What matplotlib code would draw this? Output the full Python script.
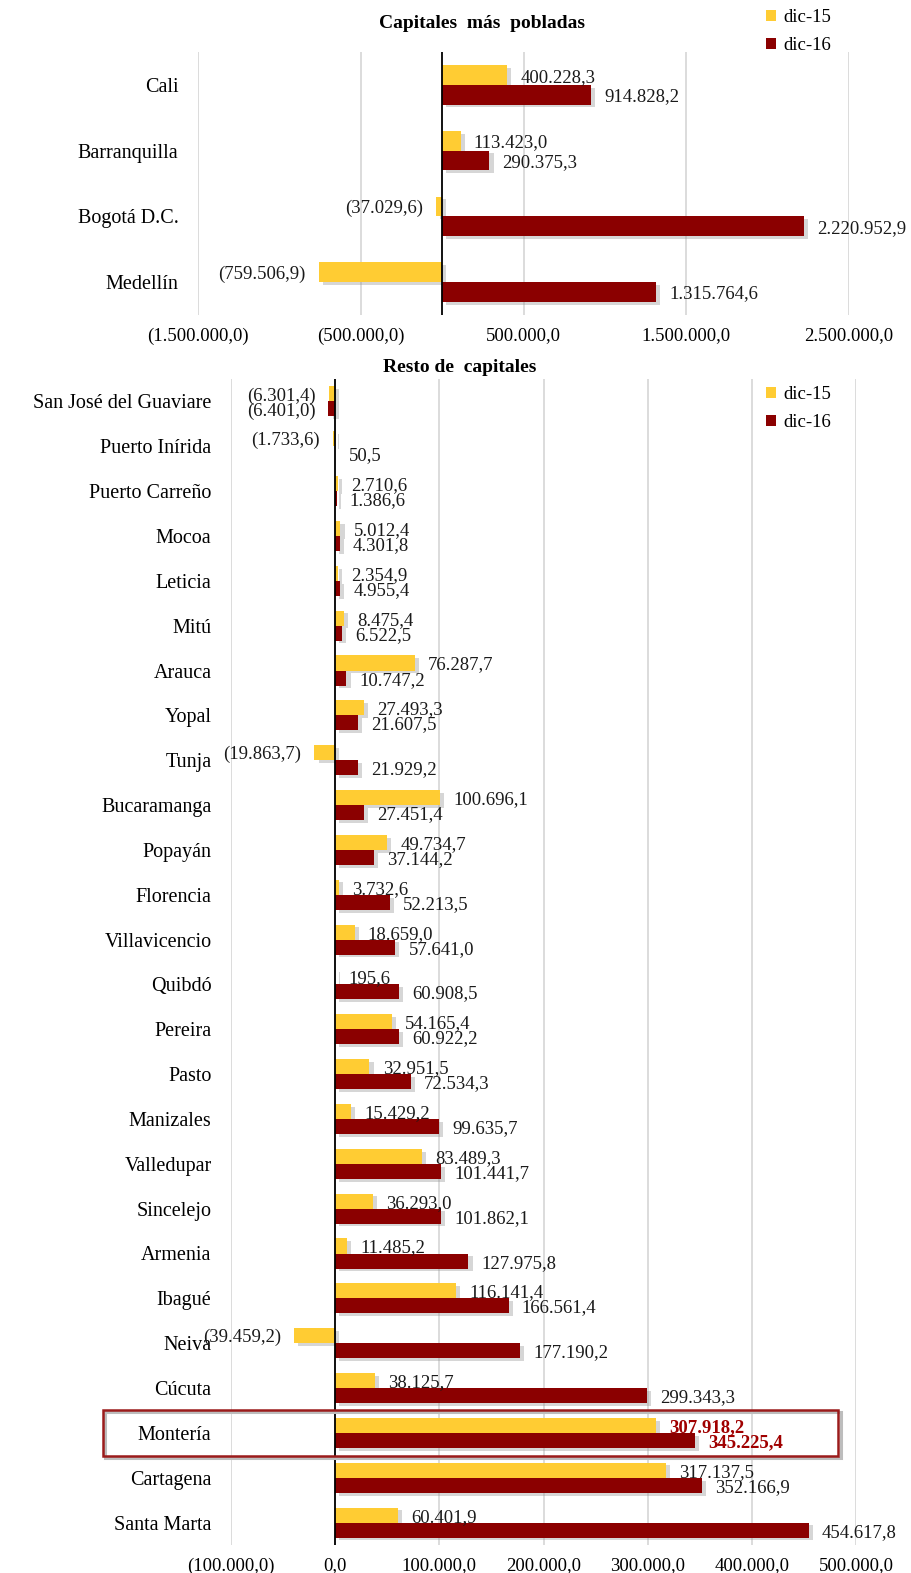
import numpy as np
import matplotlib
matplotlib.use("Agg")
import matplotlib.pyplot as plt
import matplotlib.patheffects as pe
from matplotlib.patches import Rectangle, Patch
from matplotlib.transforms import blended_transform_factory

plt.rcParams['font.family'] = ['Liberation Serif', 'DejaVu Serif']

# datos: capitales más pobladas
top_cities = ['Cali', 'Barranquilla', 'Bogotá D.C.', 'Medellín']
top_dic15 = [400228.3, 113423.0, -37029.6, -759506.9]
top_dic16 = [914828.2, 290375.3, 2220952.9, 1315764.6]
top_ticks = [-1500000, -500000, 500000, 1500000, 2500000]

# datos: resto de capitales
rest_cities = ['San José del Guaviare', 'Puerto Inírida', 'Puerto Carreño', 'Mocoa',
               'Leticia', 'Mitú', 'Arauca', 'Yopal', 'Tunja', 'Bucaramanga',
               'Popayán', 'Florencia', 'Villavicencio', 'Quibdó', 'Pereira', 'Pasto',
               'Manizales', 'Valledupar', 'Sincelejo', 'Armenia', 'Ibagué', 'Neiva',
               'Cúcuta', 'Montería', 'Cartagena', 'Santa Marta']
rest_dic15 = [-6301.4, -1733.6, 2710.6, 5012.4, 2354.9, 8475.4, 76287.7, 27493.3,
              -19863.7, 100696.1, 49734.7, 3732.6, 18659.0, 195.6, 54165.4, 32951.5,
              15429.2, 83489.3, 36293.0, 11485.2, 116141.4, -39459.2, 38125.7,
              307918.2, 317137.5, 60401.9]
rest_dic16 = [-6401.0, 50.5, 1386.6, 4301.8, 4955.4, 6522.5, 10747.2, 21607.5,
              21929.2, 27451.4, 37144.2, 52213.5, 57641.0, 60908.5, 60922.2, 72534.3,
              99635.7, 101441.7, 101862.1, 127975.8, 166561.4, 177190.2, 299343.3,
              345225.4, 352166.9, 454617.8]
rest_ticks = [-100000, 0, 100000, 200000, 300000, 400000, 500000]
highlight = 'Montería'

YELLOW = '#FFCC33'
RED = '#8B0000'
GRID = '#D9D9D9'


def fmt(v):
    s = f"{abs(v):,.1f}".replace(',', 'X').replace('.', ',').replace('X', '.')
    return f"({s})" if v < 0 else s


shadow = [pe.SimplePatchShadow(offset=(3, -2), shadow_rgbFace='#8c8c8c', alpha=0.35),
          pe.Normal()]


def draw(ax, cats, s15, s16, ticks, xlim, h, bold_cat=None):
    y = np.arange(len(cats))
    b1 = ax.barh(y - h / 2, s15, height=h, color=YELLOW, zorder=3)
    b2 = ax.barh(y + h / 2, s16, height=h, color=RED, zorder=3)
    for bars in (b1, b2):
        for r in bars:
            r.set_path_effects(shadow)
    for i, c in enumerate(cats):
        for v, yy in ((s15[i], y[i] - h / 2), (s16[i], y[i] + h / 2)):
            kw = dict(fontsize=13.5, color='#1a1a1a')
            if c == bold_cat:
                kw = dict(fontsize=13.5, color='#A00000', fontweight='bold')
            off = 9.5 if v >= 0 else -9.5
            ax.annotate(fmt(v), (v, yy), xytext=(off, -1.5), textcoords='offset points',
                        ha='left' if v >= 0 else 'right', va='center',
                        annotation_clip=False, zorder=5, **kw)
    ax.set_xlim(*xlim)
    ax.set_ylim(len(cats) - 0.5, -0.5)
    ax.set_yticks(y)
    ax.set_yticklabels(cats, fontsize=14.5)
    ax.set_xticks(ticks)
    ax.set_xticklabels([fmt(t) for t in ticks], fontsize=13.5)
    ax.tick_params(axis='y', length=0, pad=14)
    ax.tick_params(axis='x', length=0, pad=9)
    ax.grid(axis='x', color=GRID, linewidth=1.3, zorder=0)
    ax.axvline(0, color='black', linewidth=1.3, zorder=4)
    for s in ax.spines.values():
        s.set_visible(False)


fig = plt.figure(figsize=(9.11, 15.73), dpi=100)

ax1 = fig.add_axes([198 / 911, 1 - 315 / 1573, 651 / 911, 263 / 1573])
draw(ax1, top_cities, top_dic15, top_dic16, top_ticks, (-1500000, 2500000), 0.30)

ax2 = fig.add_axes([231 / 911, 1 - 1545 / 1573, 625 / 911, 1166 / 1573])
draw(ax2, rest_cities, rest_dic15, rest_dic16, rest_ticks, (-100000, 500000), 0.335,
     bold_cat=highlight)

fig.text(482 / 911, 1 - 24 / 1573, 'Capitales  más  pobladas', ha='center', va='center',
         fontsize=14, fontweight='bold')
fig.text(460 / 911, 1 - 367 / 1573, 'Resto de  capitales', ha='center', va='center',
         fontsize=14, fontweight='bold')

handles = [Patch(facecolor=YELLOW, label='dic-15'), Patch(facecolor=RED, label='dic-16')]
leg_kw = dict(frameon=False, fontsize=13.5, handlelength=0.55, handleheight=0.55,
              handletextpad=0.4, labelspacing=0.6, borderaxespad=0, borderpad=0)
ax1.legend(handles=handles, loc='upper left', bbox_to_anchor=(766 / 911, 1 - 9 / 1573),
           bbox_transform=fig.transFigure, **leg_kw)
ax2.legend(handles=handles, loc='upper left', bbox_to_anchor=(766 / 911, 1 - 386 / 1573),
           bbox_transform=fig.transFigure, **leg_kw)

# recuadro Montería
k = rest_cities.index(highlight)
tr = blended_transform_factory(fig.transFigure, ax2.transData)
bx, bw = 103 / 911, (838 - 103) / 911
box_sh = Rectangle((bx + 2.5 / 911, k + 0.52 + 0.05), bw, -1.03, transform=tr,
                   fill=False, edgecolor='#bdbdbd', linewidth=2.2, clip_on=False, zorder=5.5)
box = Rectangle((bx, k + 0.52), bw, -1.03, transform=tr,
                fill=False, edgecolor='#9B1B1B', linewidth=1.8, clip_on=False, zorder=6)
ax2.add_patch(box_sh)
ax2.add_patch(box)

fig.savefig('out.png', dpi=100)
